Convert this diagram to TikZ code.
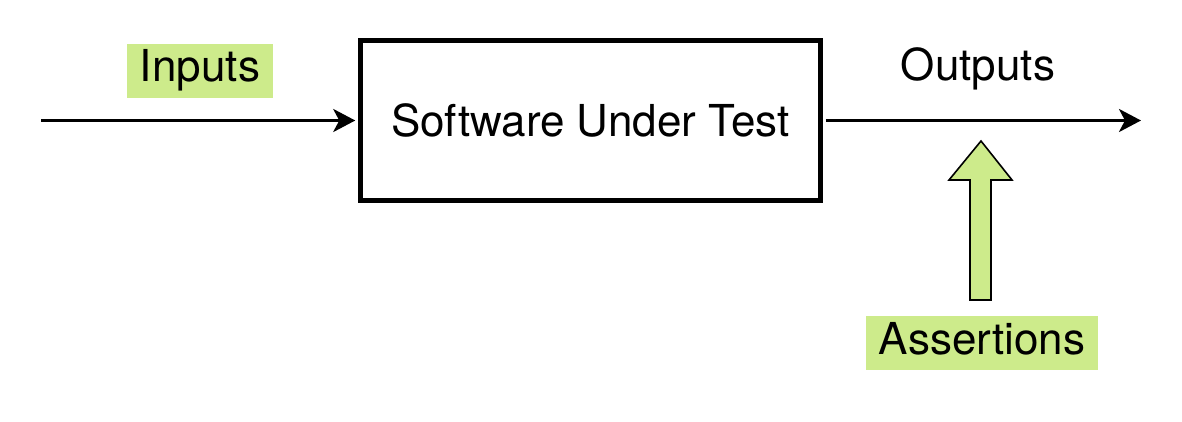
\documentclass[tikz,border=0pt]{standalone}
\usepackage{fontspec}
\setmainfont{TeX Gyre Heros}
\usetikzlibrary{arrows.meta}
\definecolor{hl}{HTML}{CDEB8B}
\tikzset{
  lbl/.style={font=\fontsize{44}{52}\selectfont, inner sep=0pt},
  hlbox/.style={lbl, fill=hl, text height=31pt, text depth=9pt, minimum height=54pt, inner xsep=13pt},
  sysbox/.style={draw, line width=5.5pt, minimum width=460pt, minimum height=160pt, font=\fontsize{44}{52}\selectfont},
  flow/.style={line width=3.2pt, -{Stealth[length=22pt, width=23pt, inset=6pt]}},
  blockarrow/.style={fill=hl, draw=black, line width=1.6pt, line join=miter}
}
\begin{document}
\begin{tikzpicture}[x=1pt, y=-1pt]
\useasboundingbox (0,0) rectangle (1182,422);
\node[sysbox] (sut) at (590.5,120.5) {Software Under Test};
\coordinate (in) at (41,120.5);
\coordinate (out) at (1141,120.5);
\draw[flow] (in) -- ([xshift=-2.5pt]sut.west);
\draw[flow] ([xshift=2.5pt]sut.east) -- (out);
\node[hlbox] (inputs) at (200,71) {Inputs};
\node[lbl] (outputs) at (978,69) {Outputs};
\node[hlbox] (assert) at (982,343) {Assertions};
\draw[blockarrow] (970,300) -- (970,180) -- (949,180) -- (981,141) -- (1012,180) -- (991,180) -- (991,300) -- cycle;
\end{tikzpicture}
\end{document}
